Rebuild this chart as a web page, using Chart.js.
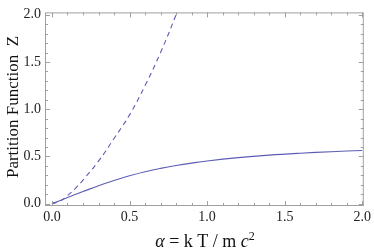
<!DOCTYPE html>
<html>
<head>
<meta charset="utf-8">
<script src="https://cdn.jsdelivr.net/npm/chart.js@4.4.0/dist/chart.umd.min.js"></script>
<style>
  html, body { margin: 0; padding: 0; background: #fff; }
  #wrap { width: 374px; height: 251px; }
</style>
</head>
<body>
<div id="wrap"><canvas id="c"></canvas></div>
<script>
// values
const alpha = [0, 0.05, 0.1, 0.15, 0.2, 0.3, 0.4, 0.5, 0.6, 0.7, 0.8, 0.9, 1.0, 1.2, 1.4, 1.6, 1.8, 2.0];
const zFull = [0, 0.03, 0.065, 0.097, 0.128, 0.19, 0.245, 0.295, 0.338, 0.373, 0.403, 0.429, 0.452, 0.487, 0.514, 0.534, 0.55, 0.563];
const alphaDash = [0, 0.05, 0.1, 0.15, 0.2, 0.3, 0.4, 0.5, 0.6, 0.7, 0.8, 0.85];
const zDash = [0, 0.025, 0.085, 0.16, 0.25, 0.45, 0.69, 0.94, 1.25, 1.6, 2.0, 2.22];
const xTicks = [0, 0.5, 1.0, 1.5, 2.0];
const yTicks = [0, 0.5, 1.0, 1.5, 2.0];

const lineColor = 'rgb(92,92,180)';
const serif = '"Liberation Serif", "DejaVu Serif", serif';

function pts(xs, ys) {
    return xs.map((v, i) => ({x: v, y: ys[i]}));
}

const frame = {
    id: 'frame',
    afterDraw(chart) {
        const {ctx, chartArea: a, scales: {x, y}} = chart;
        ctx.save();
        ctx.strokeStyle = '#a0a0a0';
        ctx.lineWidth = 1;
        ctx.strokeRect(a.left + 0.5, a.top + 0.5, a.right - a.left - 1, a.bottom - a.top - 1);
        ctx.beginPath();
        for (let i = 0; i <= 20; i++) {
            const v = i / 10;
            const len = i % 5 === 0 ? 5 : 3;
            const px = Math.round(x.getPixelForValue(v)) + 0.5;
            ctx.moveTo(px, a.bottom); ctx.lineTo(px, a.bottom - len);
            ctx.moveTo(px, a.top); ctx.lineTo(px, a.top + len);
            const py = Math.round(y.getPixelForValue(v)) + 0.5;
            ctx.moveTo(a.left, py); ctx.lineTo(a.left + len, py);
            ctx.moveTo(a.right, py); ctx.lineTo(a.right - len, py);
        }
        ctx.stroke();

        // axis titles
        ctx.fillStyle = '#111';
        ctx.textBaseline = 'alphabetic';
        ctx.save();
        ctx.translate(18, 107);
        ctx.rotate(-Math.PI / 2);
        ctx.textAlign = 'center';
        ctx.font = '17px ' + serif;
        ctx.fillText('Partition Function  Z', 0, 0);
        ctx.restore();

        const parts = [
            {t: 'α', f: 'italic 18px ' + serif, dy: 0},
            {t: ' = k T / m ', f: '18px ' + serif, dy: 0},
            {t: 'c', f: 'italic 18px ' + serif, dy: 0},
            {t: '2', f: '12px ' + serif, dy: -7}
        ];
        let w = 0;
        parts.forEach(p => { ctx.font = p.f; w += ctx.measureText(p.t).width; });
        let cx = 205 - w / 2;
        ctx.textAlign = 'left';
        parts.forEach(p => {
            ctx.font = p.f;
            ctx.fillText(p.t, cx, 247 + p.dy);
            cx += ctx.measureText(p.t).width;
        });
        ctx.restore();
    }
};

new Chart(document.getElementById('c'), {
    type: 'scatter',
    data: {
        datasets: [{
            data: pts(alpha, zFull),
            showLine: true,
            borderColor: lineColor,
            borderWidth: 1.1,
            pointRadius: 0,
            tension: 0.4
        }, {
            data: pts(alphaDash, zDash),
            showLine: true,
            borderColor: lineColor,
            borderWidth: 1.1,
            borderDash: [5, 4],
            pointRadius: 0,
            tension: 0.4
        }]
    },
    options: {
        responsive: true,
        maintainAspectRatio: false,
        animation: false,
        layout: { padding: { top: 5, right: 7, left: 0, bottom: 0 } },
        plugins: { legend: { display: false }, tooltip: { enabled: false } },
        scales: {
            x: {
                type: 'linear',
                min: -0.045,
                max: 2.01,
                afterFit: s => { s.height = 45; },
                afterBuildTicks: s => { s.ticks = xTicks.map(v => ({value: v})); },
                grid: { display: false, drawTicks: false },
                border: { display: false },
                ticks: {
                    padding: 3,
                    maxRotation: 0,
                    color: '#222',
                    font: { family: serif, size: 14 },
                    callback: v => v.toFixed(1)
                }
            },
            y: {
                min: -0.025,
                max: 2.025,
                afterFit: s => { s.width = 45; },
                afterBuildTicks: s => { s.ticks = yTicks.map(v => ({value: v})); },
                grid: { display: false, drawTicks: false },
                border: { display: false },
                ticks: {
                    padding: 4,
                    color: '#222',
                    font: { family: serif, size: 14 },
                    callback: v => v.toFixed(1)
                }
            }
        }
    },
    plugins: [frame]
});
</script>
</body>
</html>
